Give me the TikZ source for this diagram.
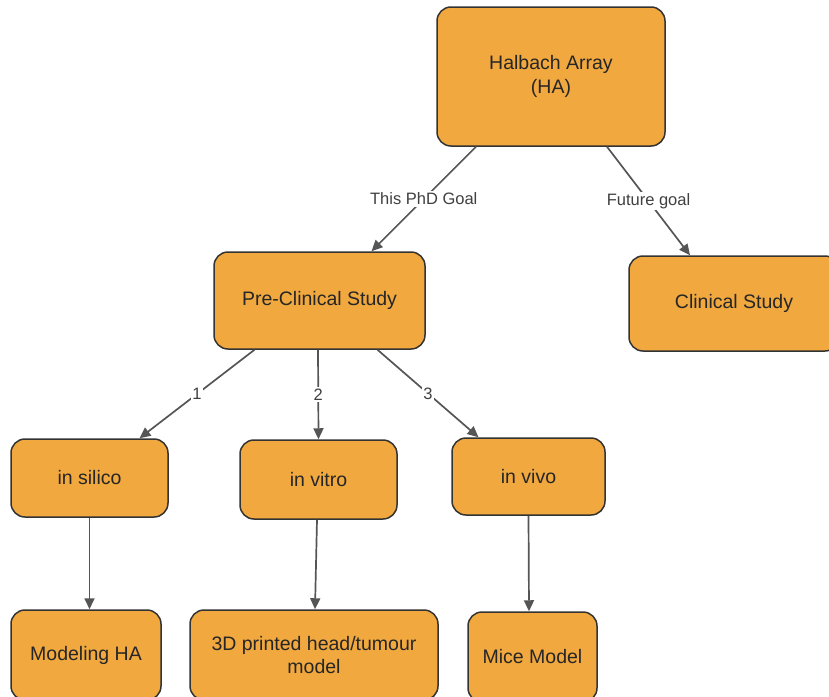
\documentclass[tikz,border=0pt]{standalone}
\usepackage{fontspec}
\setmainfont{Liberation Sans}
\usetikzlibrary{arrows.meta}
\definecolor{boxfill}{HTML}{F0A83F}
\definecolor{boxline}{HTML}{333333}
\definecolor{linkgray}{HTML}{555555}
\begin{document}
\begin{tikzpicture}[x=1pt,y=-1pt,
  box/.style={draw=boxline,line width=1.5pt,fill=boxfill,rounded corners=14pt,
    inner sep=0pt,align=center,font=\fontsize{19.5}{23.5}\selectfont,text=black!85},
  link/.style={draw=linkgray,line width=1.7pt,
    -{Triangle[length=11pt,width=10pt]}},
  lbl/.style={fill=white,inner sep=1.5pt,font=\fontsize{16.5}{19}\selectfont,text=black!75}]
\useasboundingbox (0,0) rectangle (829,696);
\clip (0,0) rectangle (829,696);

% boxes
\node[box,minimum width=228pt,minimum height=139pt] (ha) at (551,76.5) {Halbach Array\\(HA)};
\node[box,minimum width=211pt,minimum height=97pt] (pre) at (319.5,300.5) {Pre-Clinical Study};
\node[box,minimum width=210pt,minimum height=95pt] (clin) at (734,303.5) {Clinical Study};
\node[box,minimum width=157pt,minimum height=78pt] (sil) at (89.5,478) {in silico};
\node[box,minimum width=157pt,minimum height=79pt] (vit) at (318.5,479.5) {in vitro};
\node[box,minimum width=153pt,minimum height=77pt] (viv) at (528.5,476.5) {in vivo};
\node[box,minimum width=150pt,minimum height=90pt] (mod) at (86,655) {Modeling HA};
\node[box,minimum width=248pt,minimum height=90pt] (prt) at (314,655) {3D printed head/tumour\\model};
\node[box,minimum width=129pt,minimum height=90pt] (mice) at (532.5,657) {Mice Model};

% links
\draw[link] ([xshift=-75pt]ha.south) -- node[lbl]{This PhD Goal} ([xshift=52pt]pre.north);
\draw[link] ([xshift=56pt]ha.south) -- node[lbl]{Future goal} ([xshift=-44pt]clin.north);
\draw[link] ([xshift=-65pt]pre.south) -- node[lbl]{1} ([xshift=50pt]sil.north);
\draw[link] ([xshift=-1.5pt]pre.south) -- node[lbl]{2} (vit.north);
\draw[link] ([xshift=58pt]pre.south) -- node[lbl]{3} ([xshift=-50pt]viv.north);
\draw[link] (sil.south) -- (mod.north -| sil.south);
\draw[link] ([xshift=-1.5pt]vit.south) -- ([xshift=1pt]prt.north);
\draw[link] (viv.south) -- ([xshift=-3.5pt]mice.north);
\end{tikzpicture}
\end{document}
